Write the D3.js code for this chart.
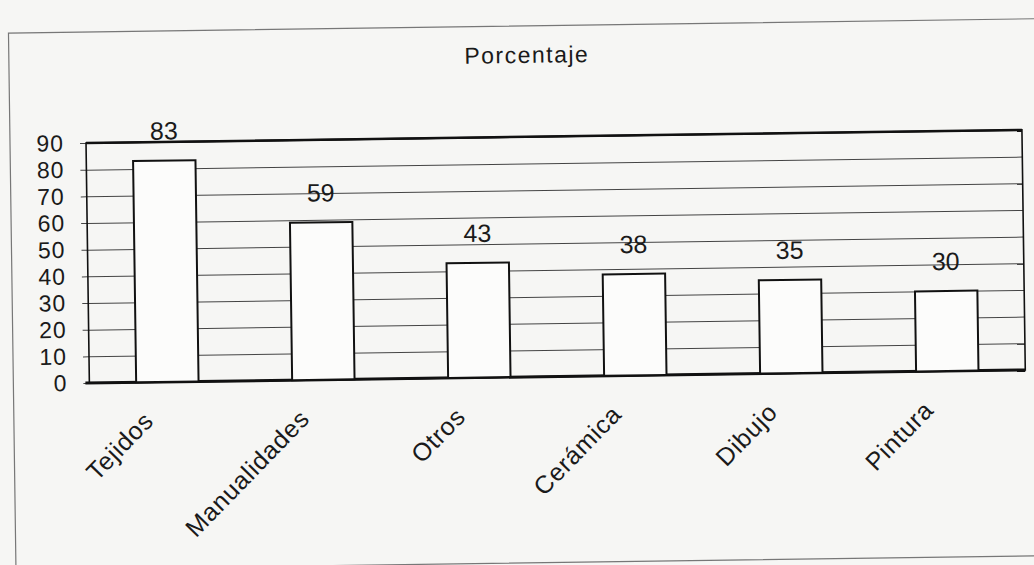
<!DOCTYPE html>
<html>
<head>
<meta charset="utf-8">
<script src="https://cdn.jsdelivr.net/npm/d3@7"></script>
<style>
  body { margin: 0; background: #f6f6f4; }
  svg { display: block; }
</style>
</head>
<body>
<svg width="1034" height="565"></svg>
<script>
// datos
const categorias = ["Tejidos", "Manualidades", "Otros", "Cerámica", "Dibujo", "Pintura"];
const porcentajes = [83, 59, 43, 38, 35, 30];
const ticksY = [0, 10, 20, 30, 40, 50, 60, 70, 80, 90];

const svg = d3.select("svg");
const margin = { top: 137, right: 10, bottom: 188, left: 88 };
const width = 1034 - margin.left - margin.right;
const height = 565 - margin.top - margin.bottom;
const font = "Liberation Sans, Arial, sans-serif";

// el escaneo está un poco inclinado
const root = svg.append("g").attr("transform", "rotate(-0.8, 517, 282)");

// marco exterior
root.append("rect")
  .attr("x", 12).attr("y", 26)
  .attr("width", 1060).attr("height", 537)
  .attr("fill", "none")
  .attr("stroke", "#777")
  .attr("stroke-width", 1.2);

root.append("text")
  .attr("x", 530).attr("y", 63)
  .attr("text-anchor", "middle")
  .style("font-family", font)
  .style("font-size", "23px")
  .style("letter-spacing", "1.5px")
  .style("fill", "#1a1a1a")
  .text("Porcentaje");

const chart = root.append("g")
  .attr("transform", `translate(${margin.left},${margin.top})`);

const x = d3.scaleBand()
  .domain(categorias)
  .range([0, width])
  .paddingInner(0.6)
  .paddingOuter(0.3);

const y = d3.scaleLinear()
  .domain([0, 90])
  .range([height, 0]);

// grillado
chart.append("g")
  .call(d3.axisLeft(y).tickValues(ticksY).tickSize(-width).tickSizeOuter(0).tickFormat(""))
  .call(g => g.select(".domain").remove())
  .selectAll("line")
  .attr("stroke", "#444")
  .attr("stroke-width", 1);

// eje y con marcas hacia afuera
chart.append("g")
  .call(d3.axisLeft(y).tickValues(ticksY).tickSize(6).tickPadding(16).tickSizeOuter(0))
  .call(g => g.select(".domain").remove())
  .call(g => g.selectAll("line").attr("stroke", "#444"))
  .selectAll("text")
  .style("font-family", font)
  .style("font-size", "23px")
  .style("letter-spacing", "1px")
  .style("fill", "#1a1a1a");

// marco del área de trazado
chart.append("rect")
  .attr("width", width).attr("height", height)
  .attr("fill", "none")
  .attr("stroke", "#111")
  .attr("stroke-width", 1.6);
chart.append("line")
  .attr("x1", 0).attr("x2", width)
  .attr("y1", 0).attr("y2", 0)
  .attr("stroke", "#111").attr("stroke-width", 2.5);
chart.append("line")
  .attr("x1", -4).attr("x2", width)
  .attr("y1", height).attr("y2", height)
  .attr("stroke", "#111").attr("stroke-width", 3);

// barras
chart.selectAll(".bar")
  .data(porcentajes)
  .join("rect")
  .attr("class", "bar")
  .attr("x", (d, i) => x(categorias[i]))
  .attr("y", d => y(d))
  .attr("width", x.bandwidth())
  .attr("height", d => height - y(d))
  .attr("fill", "#fcfcfb")
  .attr("stroke", "#111")
  .attr("stroke-width", 2);

// etiquetas de valor
chart.selectAll(".valor")
  .data(porcentajes)
  .join("text")
  .attr("class", "valor")
  .attr("x", (d, i) => x(categorias[i]) + x.bandwidth() / 2)
  .attr("y", d => y(d) - 21)
  .attr("text-anchor", "middle")
  .style("font-family", font)
  .style("font-size", "25px")
  .style("fill", "#1a1a1a")
  .text(d => d);

// etiquetas de categoría
chart.append("g")
  .attr("transform", `translate(0,${height})`)
  .call(d3.axisBottom(x).tickSize(0).tickPadding(0))
  .call(g => g.select(".domain").remove())
  .selectAll("text")
  .attr("transform", "translate(-19,34) rotate(-45)")
  .attr("dy", "0.35em")
  .attr("dx", "0")
  .style("text-anchor", "end")
  .style("font-family", font)
  .style("font-size", "25px")
  .style("letter-spacing", "0.8px")
  .style("fill", "#1a1a1a");
</script>
</body>
</html>
